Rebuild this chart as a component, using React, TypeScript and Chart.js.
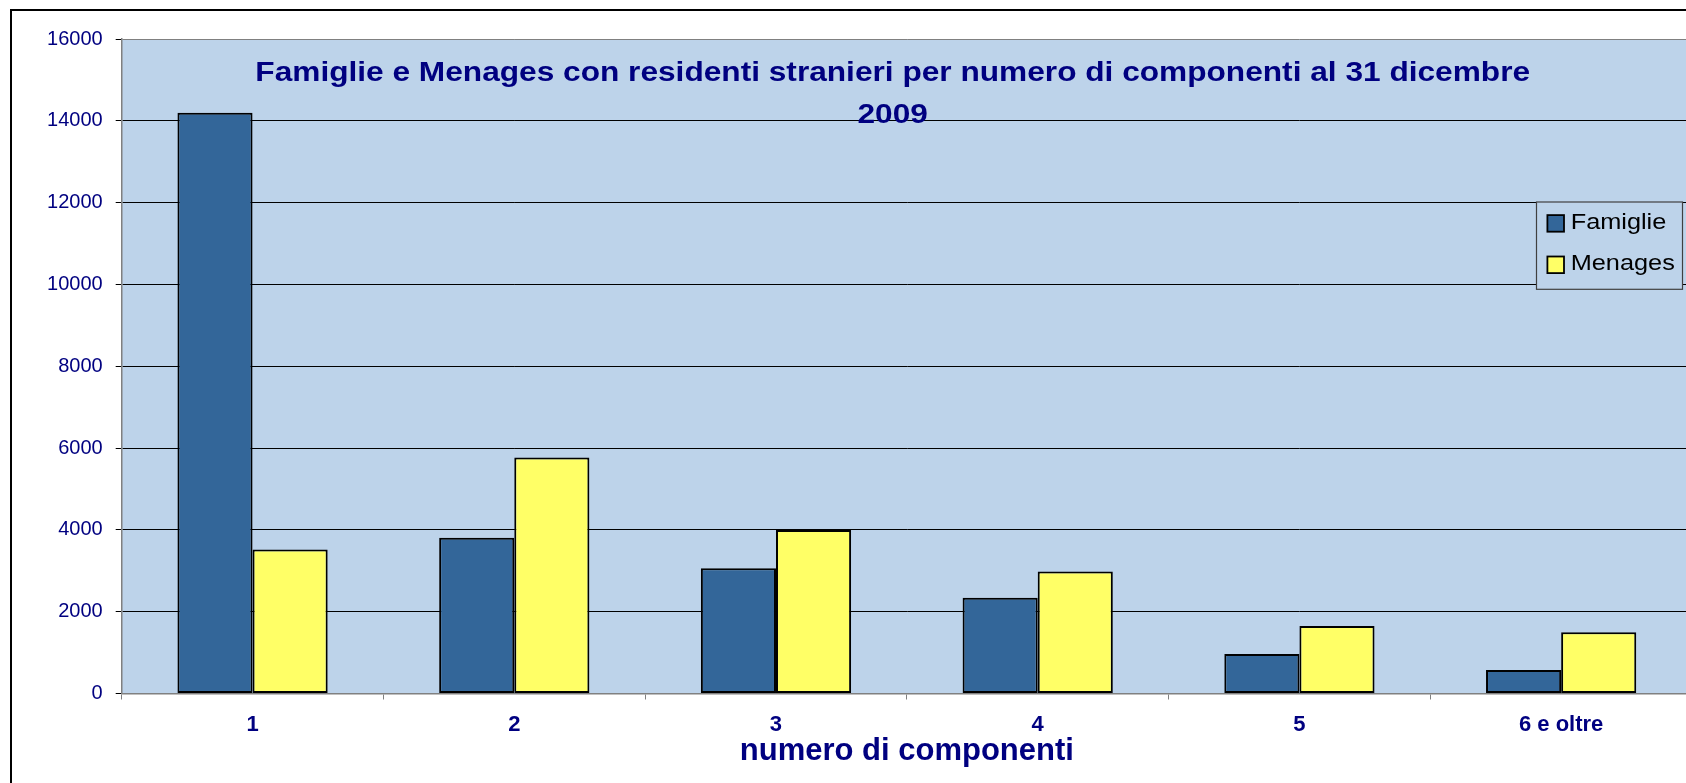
import React, { useEffect, useRef } from "react";
import { Chart, registerables } from "chart.js";

Chart.register(...registerables);

// ---- data ----
const categories = ["1", "2", "3", "4", "5", "6 e oltre"];
const famiglie = [14200, 3810, 3060, 2340, 965, 575];
const menages = [3520, 5770, 4000, 2980, 1650, 1500];
const seriesNames = ["Famiglie", "Menages"];
const seriesColors = ["#336699", "#FFFF66"];
const titleLines = [
  "Famiglie e Menages con residenti stranieri per numero di componenti al 31 dicembre",
  "2009",
];
const xAxisTitle = "numero di componenti";
const yMin = 0;
const yMax = 16000;
const yStep = 2000;

// ---- style ----
const FONT = '"Liberation Sans", Arial, Helvetica, sans-serif';
const NAVY = "#000080";
const PLOT_BG = "#BDD3EA";
const GREY = "#808080";
const W = 1692;
const H = 783;

const decorPlugin = {
  id: "decor",
  beforeDraw(chart: any) {
    const { ctx, chartArea: a } = chart;
    ctx.save();
    ctx.fillStyle = "#ffffff";
    ctx.fillRect(0, 0, chart.width, chart.height);
    ctx.strokeStyle = "#000";
    ctx.lineWidth = 2;
    ctx.strokeRect(11, 10, chart.width + 40, chart.height + 40);
    ctx.fillStyle = PLOT_BG;
    ctx.fillRect(a.left, a.top, a.right - a.left, a.bottom - a.top);
    ctx.restore();
  },
  afterDraw(chart: any) {
    const { ctx, chartArea: a } = chart;
    // title (inside plot area, as in the original)
    ctx.save();
    ctx.fillStyle = NAVY;
    ctx.font = `bold 28px ${FONT}`;
    ctx.textAlign = "center";
    ctx.textBaseline = "alphabetic";
    const cx = a.left + 771;
    titleLines.forEach((line, i) => {
      ctx.save();
      ctx.translate(cx, a.top + 41.7 + i * 42.6);
      ctx.scale(1.13, 1);
      ctx.fillText(line, 0, 0);
      ctx.restore();
    });
    ctx.restore();

    // legend box
    const lx = a.right - 156;
    const ly = a.top + 162.5;
    const lw = 146;
    const lh = 87.3;
    ctx.save();
    ctx.fillStyle = PLOT_BG;
    ctx.fillRect(lx, ly, lw, lh);
    ctx.strokeStyle = "#404040";
    ctx.lineWidth = 1.2;
    ctx.strokeRect(lx + 0.5, ly + 0.5, lw, lh);
    chart.data.datasets.forEach((ds: any, i: number) => {
      const sy = ly + 13.6 + i * 41.4;
      ctx.fillStyle = ds.backgroundColor;
      ctx.fillRect(lx + 11.4, sy, 16.6, 16.6);
      ctx.strokeStyle = "#000";
      ctx.lineWidth = 1.8;
      ctx.strokeRect(lx + 11.4, sy, 16.6, 16.6);
      ctx.save();
      ctx.fillStyle = "#000";
      ctx.font = `22px ${FONT}`;
      ctx.textAlign = "left";
      ctx.textBaseline = "alphabetic";
      ctx.translate(lx + 34.7, ly + 27.6 + i * 41);
      ctx.scale(1.15, 1);
      ctx.fillText(ds.label, 0, 0);
      ctx.restore();
    });
    ctx.restore();
  },
};

export default function App() {
  const ref = useRef<HTMLCanvasElement | null>(null);

  useEffect(() => {
    if (!ref.current) return;
    const chart = new Chart(ref.current, {
      type: "bar",
      data: {
        labels: categories,
        datasets: [
          {
            label: seriesNames[0],
            data: famiglie,
            backgroundColor: seriesColors[0],
            borderColor: "#000",
            borderWidth: 2,
            borderSkipped: false,
            categoryPercentage: 0.574,
            barPercentage: 1,
          },
          {
            label: seriesNames[1],
            data: menages,
            backgroundColor: seriesColors[1],
            borderColor: "#000",
            borderWidth: 2,
            borderSkipped: false,
            categoryPercentage: 0.574,
            barPercentage: 1,
          },
        ],
      },
      options: {
        animation: false,
        responsive: false,
        maintainAspectRatio: false,
        layout: { padding: { top: 39, left: 0, right: 0, bottom: 0 } },
        plugins: {
          legend: { display: false },
          title: { display: false },
          tooltip: { enabled: false },
        },
        scales: {
          x: {
            grid: {
              offset: true,
              drawOnChartArea: false,
              drawTicks: true,
              tickLength: 6,
              color: GREY,
              tickColor: GREY,
            },
            border: { color: GREY, width: 1.5 },
            ticks: {
              color: NAVY,
              font: { family: FONT, size: 22, weight: "bold" },
              padding: 12,
              maxRotation: 0,
              autoSkip: false,
            },
            title: {
              display: true,
              text: xAxisTitle,
              color: NAVY,
              font: { family: FONT, size: 31, weight: "bold" },
              padding: { top: 0, bottom: 13.3 },
            },
            afterFit: (s: any) => {
              s.height = 89.5;
            },
          },
          y: {
            min: yMin,
            max: yMax,
            ticks: {
              stepSize: yStep,
              color: NAVY,
              font: { family: FONT, size: 20 },
              padding: 13,
              callback: (v: any) => String(v),
            },
            grid: {
              color: (c: any) =>
                c.tick && (c.tick.value === yMax || c.tick.value === yMin) ? GREY : "#000",
              lineWidth: 1,
              tickLength: 6,
              tickColor: "#000",
            },
            border: { color: GREY, width: 1.5 },
            afterFit: (s: any) => {
              s.width = 121.7;
            },
          },
        },
      },
      plugins: [decorPlugin],
    });
    return () => chart.destroy();
  }, []);

  return (
    <div
      style={{
        position: "fixed",
        left: 0,
        top: 0,
        width: 1686,
        height: 783,
        overflow: "hidden",
        background: "#fff",
      }}
    >
      <canvas ref={ref} width={W} height={H} style={{ display: "block" }} />
    </div>
  );
}
